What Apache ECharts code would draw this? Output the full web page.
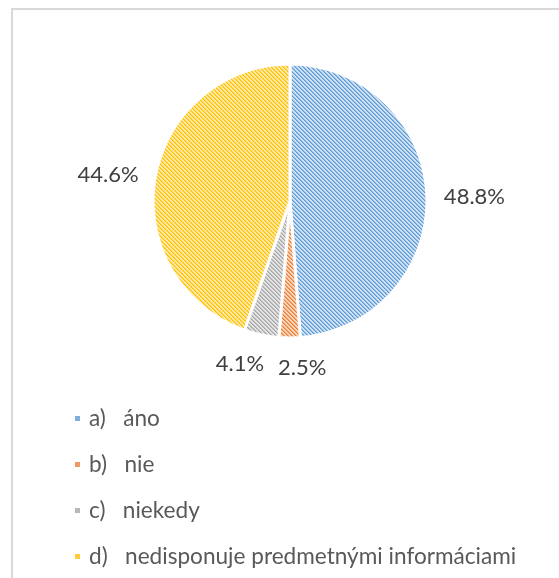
<!DOCTYPE html>
<html><head><meta charset="utf-8">
<script src="https://cdn.jsdelivr.net/npm/echarts@6/dist/echarts.min.js"></script>
<style>html,body{margin:0;padding:0;background:#fff;}#c{width:559px;height:578px;}</style>
</head><body><div id="c"></div>
<script>
const categories = ['a)   áno', 'b)   nie', 'c)   niekedy', 'd)   nedisponuje predmetnými informáciami'];
const values = [48.8, 2.5, 4.1, 44.6];
const darkColors = ['#5B9BD5', '#ED7D31', '#A5A5A5', '#FFC000'];
const lightColors = ['#cfe1f3', '#f9d5bd', '#e3e3e3', '#ffeaa8'];
const legendColors = ['#7fb0dd', '#ef9a62', '#b8b8b8', '#ffcd3a'];

const CX = 290, CY = 201, R = 137, LABEL_GAP = 17, FONT = 'Lato', FS = 22;

function pattern(dark, light) {
  const c = document.createElement('canvas');
  c.width = 4; c.height = 4;
  const g = c.getContext('2d');
  g.fillStyle = light; g.fillRect(0, 0, 4, 4);
  for (let y = 0; y < 4; y++) for (let x = 0; x < 4; x++) {
    const d = ((x - y) % 4 + 4) % 4;
    if (d === 0) { g.fillStyle = dark; g.fillRect(x, y, 1, 1); }
    else if (d === 1) { g.globalAlpha = 0.55; g.fillStyle = dark; g.fillRect(x, y, 1, 1); g.globalAlpha = 1; }
  }
  return { image: c, repeat: 'repeat' };
}

// Excel-like outside-end label placement computed from the data values
const fmt = v => v.toFixed(1) + '%';
const mc = document.createElement('canvas').getContext('2d');
mc.font = FS + 'px ' + FONT;
const total = values.reduce((a, b) => a + b, 0);
let acc = 0;
const boxes = values.map(v => {
  const th = (acc + v / 2) / total * 2 * Math.PI; acc += v;
  const s = Math.sin(th), c = Math.cos(th);
  const w = mc.measureText(fmt(v)).width, h = FS;
  const px = CX + (R + LABEL_GAP) * s, py = CY - (R + LABEL_GAP) * c;
  return { x: px + s * w / 2, y: py - c * h / 2, w, h };
});
for (let k = 0; k < 3; k++) {
  for (let i = 0; i < boxes.length; i++) for (let j = i + 1; j < boxes.length; j++) {
    const a = boxes[i], b = boxes[j];
    const ox = (a.w + b.w) / 2 + 14 - Math.abs(a.x - b.x);
    const oy = (a.h + b.h) / 2 - Math.abs(a.y - b.y);
    if (ox > 0 && oy > 0) {
      const dir = a.x >= b.x ? 1 : -1;
      a.x += dir * ox / 2; b.x -= dir * ox / 2;
    }
  }
}

const chart = echarts.init(document.getElementById('c'));
chart.setOption({
  animation: false,
  backgroundColor: '#fff',
  graphic: [{ type: 'rect', shape: { x: 12, y: 9, width: 620, height: 620 }, style: { fill: 'none', stroke: '#d9d9d9', lineWidth: 2 } }],
  legend: {
    orient: 'vertical', left: 68, top: 402, itemGap: 23,
    icon: 'rect', itemWidth: 7, itemHeight: 7,
    data: categories.map((n, i) => ({ name: n, itemStyle: { color: legendColors[i] } })),
    textStyle: { fontFamily: FONT, fontSize: 22.6, lineHeight: 22, color: '#595959', padding: [0, 0, 0, 3] }
  },
  series: [{
    type: 'pie', center: [CX, CY], radius: R,
    startAngle: 90, clockwise: true,
    itemStyle: { borderColor: '#fff', borderWidth: 3 },
    label: { show: true, position: 'outside', formatter: p => fmt(p.value), fontFamily: FONT, fontSize: FS, color: '#404040' },
    labelLine: { show: false },
    labelLayout: p => ({ x: boxes[p.dataIndex].x, y: boxes[p.dataIndex].y + 2, align: 'center', verticalAlign: 'middle' }),
    data: categories.map((n, i) => ({ name: n, value: values[i], itemStyle: { color: pattern(darkColors[i], lightColors[i]) } }))
  }]
});
</script></body></html>
